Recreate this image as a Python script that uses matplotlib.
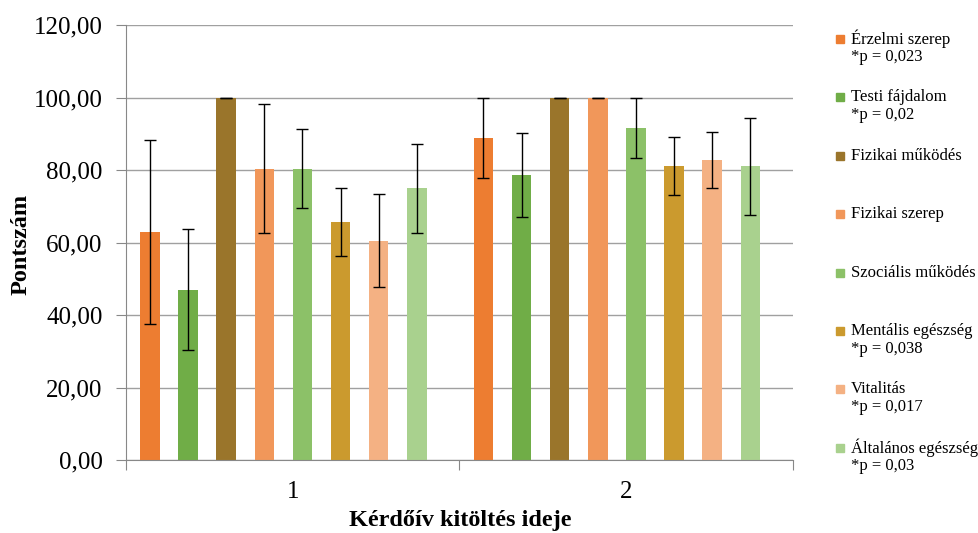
import numpy as np
import matplotlib
matplotlib.use('Agg')
import matplotlib.pyplot as plt
from matplotlib.patches import Rectangle
from matplotlib.ticker import FixedLocator, FuncFormatter

plt.rcParams['font.family'] = ['Liberation Serif', 'DejaVu Serif']

# data
groups = ['1', '2']
series = ['Érzelmi szerep', 'Testi fájdalom', 'Fizikai működés', 'Fizikai szerep',
          'Szociális működés', 'Mentális egészség', 'Vitalitás', 'Általános egészség']
p_notes = ['*p = 0,023', '*p = 0,02', '', '', '', '*p = 0,038', '*p = 0,017', '*p = 0,03']
means_1 = [63.0, 47.0, 100.0, 80.4, 80.4, 65.6, 60.5, 74.9]
means_2 = [88.9, 78.6, 100.0, 100.0, 91.6, 81.1, 82.8, 81.0]
err_1 = [25.4, 16.7, 0.0, 17.9, 10.9, 9.3, 12.8, 12.4]
err_2 = [11.0, 11.6, 0.0, 0.0, 8.2, 8.1, 7.8, 13.4]
colors = ['#ED7D31', '#70AD47', '#9A752B', '#F1975A',
          '#8CC168', '#CB9A2E', '#F4B183', '#A9D18E']

fig = plt.figure(figsize=(9.79, 5.33), dpi=100)
ax = fig.add_axes([126 / 979, 1 - 460 / 533, (793 - 126) / 979, (460 - 25) / 533])

means = np.array([means_1, means_2])
errs = np.array([err_1, err_2])
x = np.arange(len(groups))
step = 0.1143
width = 0.0585
shift = -0.028
for i, name in enumerate(series):
    pos = x + shift + (i - 3.5) * step
    ax.bar(pos, means[:, i], width=width, color=colors[i], zorder=2)
    ax.errorbar(pos, means[:, i], yerr=errs[:, i], fmt='none', ecolor='black',
                elinewidth=1, capsize=4, capthick=1, zorder=3)

ax.set_ylim(0, 120)
ax.set_xlim(-0.5, 1.5)
ax.set_yticks(np.arange(0, 121, 20))
ax.yaxis.set_major_formatter(FuncFormatter(lambda v, _: f'{v:.2f}'.replace('.', ',')))
ax.yaxis.grid(True, color='#A0A0A0', linewidth=1, zorder=0)
ax.set_axisbelow(True)

ax.xaxis.set_major_locator(FixedLocator([-0.5, 0.5, 1.5]))
ax.xaxis.set_major_formatter(FuncFormatter(lambda v, _: ''))
ax.set_xticks(x, minor=True)
ax.set_xticklabels(groups, minor=True)
ax.tick_params(axis='x', which='minor', length=0, pad=15, labelsize=18)
ax.tick_params(axis='x', which='major', length=7, color='#888888', direction='out')
ax.tick_params(axis='y', length=7, color='#888888', direction='out', pad=10, labelsize=18)

for s in ['top', 'right']:
    ax.spines[s].set_visible(False)
for s in ['left', 'bottom']:
    ax.spines[s].set_color('#888888')

fig.text(21 / 979, 1 - 244 / 533, 'Pontszám', rotation=90, ha='center', va='center',
         fontsize=17.5, fontweight='bold')
fig.text(460 / 979, 1 - 526 / 533, 'Kérdőív kitöltés ideje', ha='center', va='baseline',
         fontsize=17.5, fontweight='bold')

# legend drawn by hand to keep Excel-like spacing
top_y = 39
gap = 58.4
for i, name in enumerate(series):
    yy = top_y + i * gap
    fig.add_artist(Rectangle((836 / 979, 1 - (yy + 4) / 533), 8 / 979, 8 / 533,
                             color=colors[i], transform=fig.transFigure))
    fig.text(851 / 979, 1 - yy / 533, name, ha='left', va='center', fontsize=12)
    if p_notes[i]:
        fig.text(851 / 979, 1 - (yy + 18) / 533, p_notes[i], ha='left', va='center', fontsize=12)

fig.savefig('out.png', dpi=100)
